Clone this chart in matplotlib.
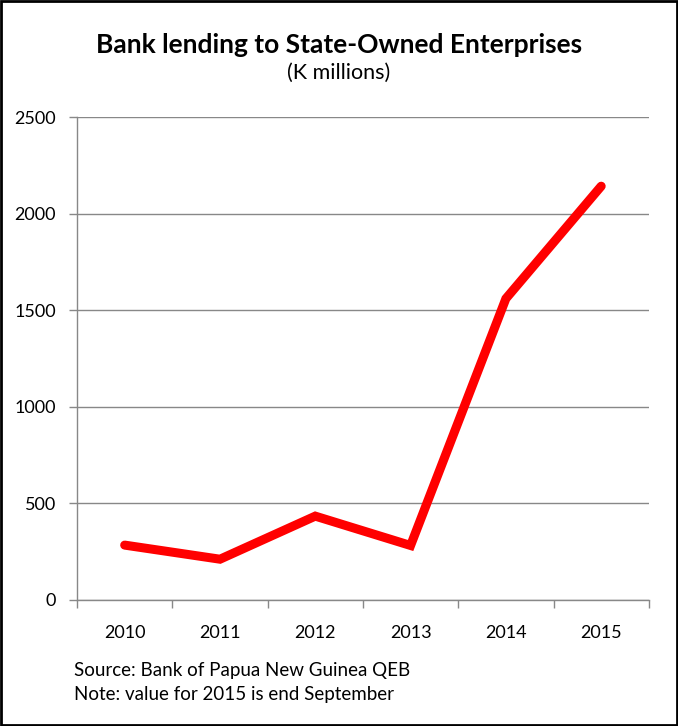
import numpy as np
import matplotlib.pyplot as plt
from matplotlib.patches import Rectangle

# Bank lending to SOEs, K millions (2015 is end September)
years = ['2010', '2011', '2012', '2013', '2014', '2015']
lending = [284, 211, 434, 282, 1560, 2142]

plt.rcParams['font.family'] = ['Lato', 'DejaVu Sans']

fig = plt.figure(figsize=(6.78, 7.26), dpi=100)
ax = fig.add_axes([0.1136, 0.1736, 0.8434, 0.6652])

x = np.arange(len(years))
ax.plot(x, lending, color='#ff0000', linewidth=6.5, solid_joinstyle='miter', solid_capstyle='round', zorder=3)

ax.set_xlim(-0.5, len(years) - 0.5)
ax.set_ylim(0, 2500)
ax.set_yticks(np.arange(0, 2501, 500))
ax.set_xticks(x)
ax.set_xticklabels(years)
ax.set_xticks(np.arange(-0.5, len(years), 1), minor=True)
ax.tick_params(axis='x', which='major', length=0, pad=18, labelsize=13)
ax.tick_params(axis='x', which='minor', length=6, color='#888888', width=1, direction='out')
ax.tick_params(axis='y', length=6, color='#888888', width=1, labelsize=13, pad=9)

ax.grid(axis='y', color='#888888', linewidth=1)
ax.set_axisbelow(True)
for s in ['top', 'right']:
    ax.spines[s].set_visible(False)
for s in ['left', 'bottom']:
    ax.spines[s].set_color('#888888')
    ax.spines[s].set_linewidth(1)

fig.text(0.5, 0.938, 'Bank lending to State-Owned Enterprises', ha='center', va='center',
         fontsize=19, fontweight='bold')
fig.text(0.5, 0.899, '(K millions)', ha='center', va='center', fontsize=15.5)
fig.text(0.109, 0.077, 'Source: Bank of Papua New Guinea QEB', ha='left', va='center', fontsize=13.5)
fig.text(0.109, 0.043, 'Note: value for 2015 is end September', ha='left', va='center', fontsize=13.5)

fig.patches.append(Rectangle((0.002, 0.002), 0.996, 0.996, transform=fig.transFigure,
                             fill=False, edgecolor='black', linewidth=2))

fig.savefig('out.png', dpi=100)
